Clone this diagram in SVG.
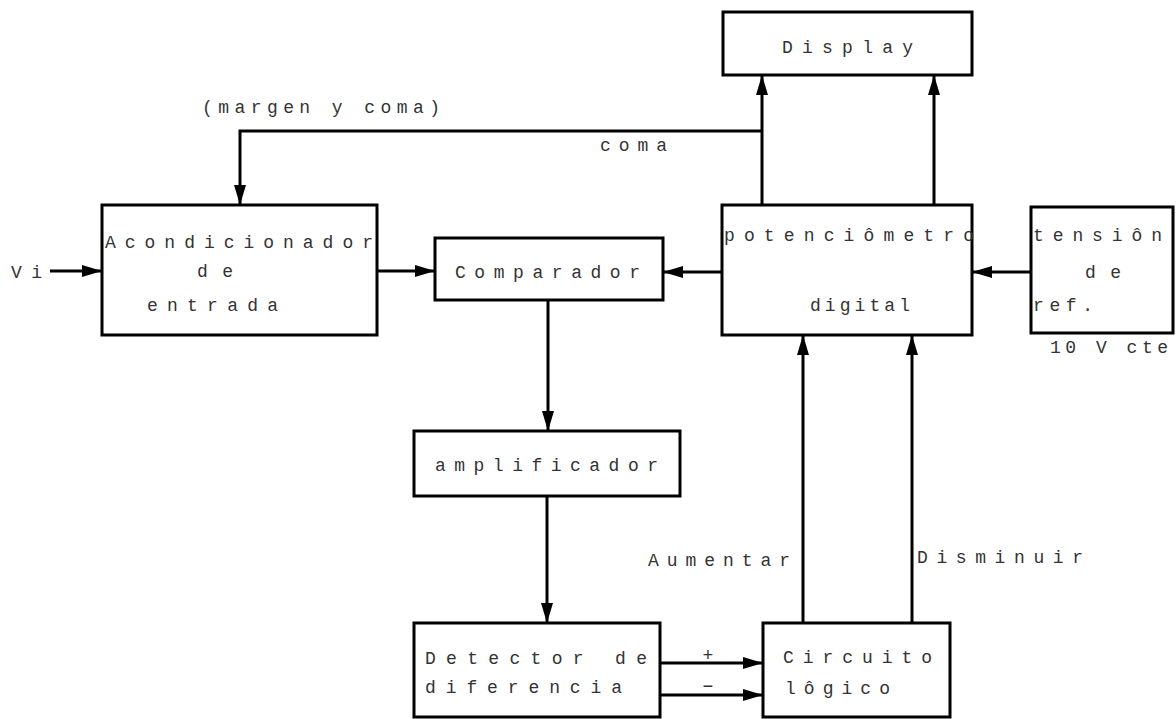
<svg xmlns="http://www.w3.org/2000/svg" width="1176" height="719" viewBox="0 0 1176 719">
<style>
.box{fill:#fff;stroke:#000;stroke-width:3}
.t{font-family:"Liberation Mono",monospace;font-size:18px;fill:#333}
.c{fill:none;stroke:#000;stroke-width:3}
</style>
<defs>
<marker id="ah" markerUnits="userSpaceOnUse" markerWidth="20" markerHeight="12" refX="20" refY="6" orient="auto">
<path d="M0,0 L20,6 L0,12 Z" fill="#000"/>
</marker>
</defs>
<rect width="1176" height="719" fill="#fff"/>
<g id="connectors">
<line class="c" x1="50" y1="271" x2="102" y2="271" marker-end="url(#ah)"/>
<line class="c" x1="377" y1="271" x2="435" y2="271" marker-end="url(#ah)"/>
<line class="c" x1="722" y1="272" x2="663" y2="272" marker-end="url(#ah)"/>
<line class="c" x1="1031" y1="272" x2="972" y2="272" marker-end="url(#ah)"/>
<line class="c" x1="548" y1="300" x2="548" y2="431" marker-end="url(#ah)"/>
<line class="c" x1="547" y1="496" x2="547" y2="623" marker-end="url(#ah)"/>
<line class="c" x1="660" y1="663" x2="763" y2="663" marker-end="url(#ah)"/>
<line class="c" x1="660" y1="695" x2="763" y2="695" marker-end="url(#ah)"/>
<line class="c" x1="803" y1="623" x2="803" y2="335" marker-end="url(#ah)"/>
<line class="c" x1="912" y1="623" x2="912" y2="335" marker-end="url(#ah)"/>
<line class="c" x1="762" y1="205" x2="762" y2="75" marker-end="url(#ah)"/>
<line class="c" x1="934" y1="205" x2="934" y2="75" marker-end="url(#ah)"/>
<path class="c" d="M762,131 H240 V205" marker-end="url(#ah)"/>
<text class="t" x="202" y="113" textLength="238" lengthAdjust="spacing">(margen y coma)</text>
<text class="t" x="600" y="151" textLength="67" lengthAdjust="spacing">coma</text>
<text class="t" x="11" y="278" textLength="31" lengthAdjust="spacing">Vi</text>
<text class="t" x="648" y="566" textLength="142" lengthAdjust="spacing">Aumentar</text>
<text class="t" x="917" y="563" textLength="166" lengthAdjust="spacing">Disminuir</text>
<text class="t" x="708" y="661" text-anchor="middle">+</text>
<text class="t" x="708" y="692" text-anchor="middle">−</text>
</g>
<g id="display">
<rect class="box" x="723" y="12" width="249" height="63"/>
<text class="t" x="782" y="53" textLength="131" lengthAdjust="spacing">Display</text>
</g>
<g id="acondicionador">
<rect class="box" x="102" y="205" width="275" height="130"/>
<text class="t" x="105" y="248" textLength="268" lengthAdjust="spacing">Acondicionador</text>
<text class="t" x="197" y="277" textLength="36" lengthAdjust="spacing">de</text>
<text class="t" x="147" y="311" textLength="131" lengthAdjust="spacing">entrada</text>
</g>
<g id="comparador">
<rect class="box" x="435" y="238" width="228" height="62"/>
<text class="t" x="455" y="278" textLength="185" lengthAdjust="spacing">Comparador</text>
</g>
<g id="potenciometro">
<rect class="box" x="722" y="205" width="250" height="130"/>
<text class="t" x="724" y="241" textLength="250" lengthAdjust="spacing">potenciômetro</text>
<text class="t" x="810" y="311" textLength="100" lengthAdjust="spacing">digital</text>
</g>
<g id="tension">
<rect class="box" x="1031" y="207" width="142" height="126"/>
<text class="t" x="1033" y="241" textLength="129" lengthAdjust="spacing">tensiôn</text>
<text class="t" x="1085" y="278" textLength="36" lengthAdjust="spacing">de</text>
<text class="t" x="1033" y="311" textLength="60" lengthAdjust="spacing">ref.</text>
<text class="t" x="1050" y="353" textLength="118" lengthAdjust="spacing">10 V cte</text>
</g>
<g id="amplificador">
<rect class="box" x="414" y="431" width="266" height="65"/>
<text class="t" x="435" y="471" textLength="223" lengthAdjust="spacing">amplificador</text>
</g>
<g id="detector">
<rect class="box" x="414" y="623" width="246" height="94"/>
<text class="t" x="425" y="664" textLength="222" lengthAdjust="spacing">Detector de</text>
<text class="t" x="425" y="693" textLength="197" lengthAdjust="spacing">diferencia</text>
</g>
<g id="circuito">
<rect class="box" x="763" y="623" width="187" height="94"/>
<text class="t" x="783" y="663" textLength="149" lengthAdjust="spacing">Circuito</text>
<text class="t" x="785" y="694" textLength="105" lengthAdjust="spacing">lôgico</text>
</g>
</svg>
